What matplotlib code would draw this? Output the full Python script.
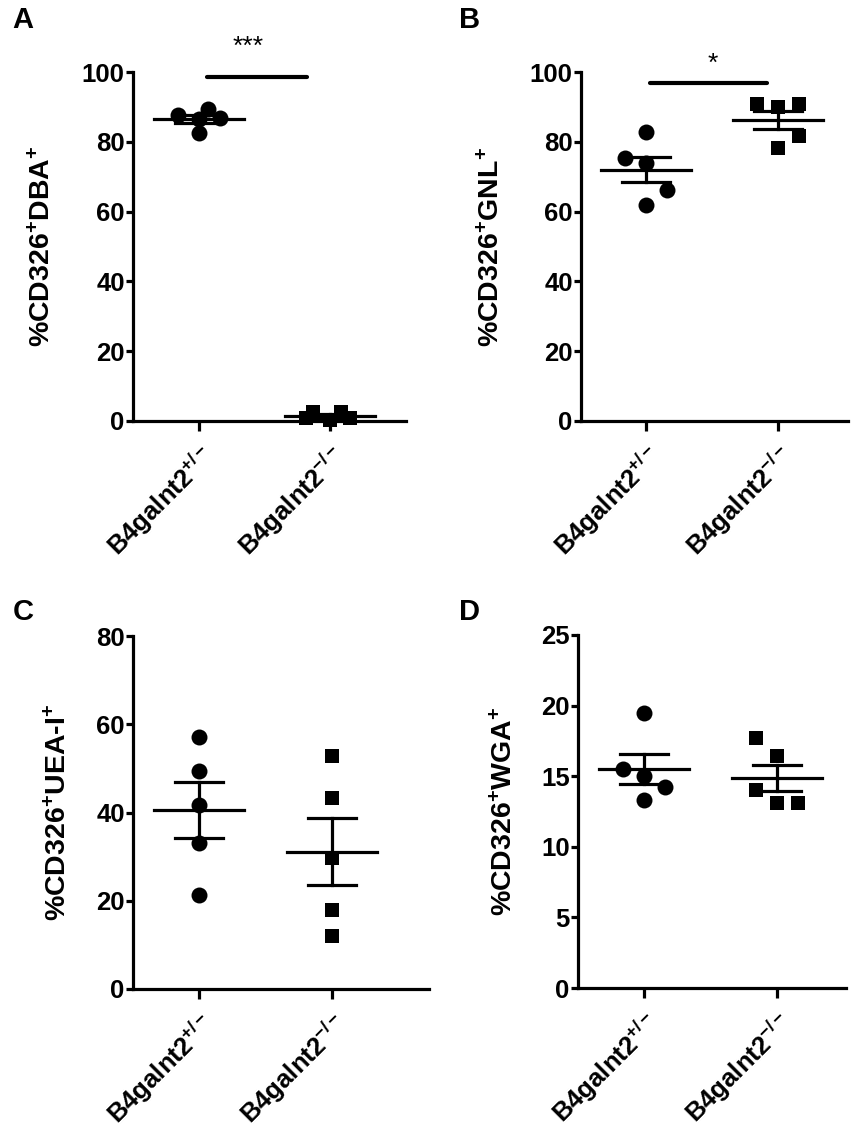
import numpy as np
import matplotlib
matplotlib.use("Agg")
import matplotlib.pyplot as plt

plt.rcParams['font.family'] = ['Liberation Sans', 'DejaVu Sans']
plt.rcParams['font.weight'] = 'bold'
plt.rcParams['mathtext.fontset'] = 'custom'
plt.rcParams['mathtext.rm'] = 'Liberation Sans:bold'
plt.rcParams['mathtext.bf'] = 'Liberation Sans:bold'
plt.rcParams['mathtext.it'] = 'Liberation Sans:bold'
plt.rcParams['mathtext.default'] = 'rm'

# data (% of CD326+ cells)
groups = [r'B4galnt2$^{+/-}$', r'B4galnt2$^{-/-}$']

dba_het = [87.7, 89.4, 86.8, 82.5, 86.6]
dba_ko = [2.6, 2.6, 0.9, 0.9, 0.3]
gnl_het = [75.3, 82.9, 73.8, 66.1, 62.0]
gnl_ko = [90.8, 90.0, 90.8, 81.6, 78.3]
uea_het = [57.2, 49.5, 41.8, 33.2, 21.2]
uea_ko = [52.9, 43.2, 29.7, 17.9, 12.0]
wga_het = [19.5, 15.5, 15.0, 14.2, 13.3]
wga_ko = [17.7, 16.4, 14.0, 13.1, 13.1]

# horizontal scatter of the dots (category units)
jit_dba_het = [-0.16, 0.07, 0.16, 0.0, 0.0]
jit_dba_ko = [-0.13, 0.08, -0.18, 0.15, 0.0]
jit_gnl_het = [-0.16, 0.0, 0.0, 0.16, 0.0]
jit_gnl_ko = [-0.16, 0.0, 0.16, 0.16, 0.0]
jit_uea_het = [0, 0, 0, 0, 0]
jit_uea_ko = [0, 0, 0, 0, 0]
jit_wga_het = [0.0, -0.16, 0.0, 0.16, 0.0]
jit_wga_ko = [-0.16, 0.0, -0.16, 0.0, 0.16]

W, H = 854, 1129
fig = plt.figure(figsize=(W / 100, H / 100), dpi=100)
LW = 2.3
TICK_FS = 18.5


def make_axes(left, right, top, bottom):
    return fig.add_axes([left / W, 1 - bottom / H, (right - left) / W, (bottom - top) / H])


def panel(ax, het, ko, jh, jk, ymax, ystep, xlim, ylabel, lab_off):
    for i, (vals, jit, mk, ms) in enumerate([(het, jh, 'o', 11.5), (ko, jk, 's', 10.5)]):
        vals = np.array(vals)
        m = vals.mean()
        sem = vals.std(ddof=1) / np.sqrt(len(vals))
        ax.plot(i + np.array(jit), vals, mk, color='black', ms=ms, mew=0, clip_on=False, zorder=3)
        ax.plot([i - 0.34, i + 0.34], [m, m], color='black', lw=LW, clip_on=False, zorder=4)
        ax.plot([i, i], [m - sem, m + sem], color='black', lw=LW, clip_on=False, zorder=4)
        for y in (m - sem, m + sem):
            ax.plot([i - 0.18, i + 0.18], [y, y], color='black', lw=LW, clip_on=False, zorder=4)
    ax.set_xlim(*xlim)
    ax.set_ylim(0, ymax)
    ax.set_yticks(np.arange(0, ymax + 0.1, ystep))
    ax.set_xticks([0, 1])
    ax.set_xticklabels(groups, rotation=45, ha='right', rotation_mode='anchor', fontsize=TICK_FS)
    for s in ('top', 'right'):
        ax.spines[s].set_visible(False)
    for s in ('left', 'bottom'):
        ax.spines[s].set_linewidth(LW)
    ax.tick_params(axis='y', direction='out', length=5, width=LW, labelsize=TICK_FS, pad=1)
    ax.tick_params(axis='x', direction='out', length=7.5, width=LW, pad=7)
    ax.set_ylabel(ylabel, fontsize=20.5, fontweight='bold')
    ax.yaxis.label.set_verticalalignment('center')
    ax.yaxis.set_label_coords(lab_off, 0.5)


axA = make_axes(133, 406, 72, 421)
panel(axA, dba_het, dba_ko, jit_dba_het, jit_dba_ko, 100, 20, (-0.504, 1.580),
      r'%CD326$^{+}$DBA$^{+}$', -0.33)
axA.plot([0.061, 0.824], [98.7, 98.7], color='black', lw=3, solid_capstyle='round', clip_on=False)
axA.annotate('***', xy=(0.374, 98.7), xytext=(0, 16), textcoords='offset points',
             ha='center', va='baseline', fontsize=19, fontweight='normal', annotation_clip=False)

axB = make_axes(581, 848, 72, 421)
panel(axB, gnl_het, gnl_ko, jit_gnl_het, jit_gnl_ko, 100, 20, (-0.492, 1.530),
      r'%CD326$^{+}$GNL$^{+}$', -0.335)
axB.plot([0.03, 0.917], [96.8, 96.8], color='black', lw=3, solid_capstyle='round', clip_on=False)
axB.annotate('*', xy=(0.505, 96.8), xytext=(0, 9), textcoords='offset points',
             ha='center', va='baseline', fontsize=19, fontweight='normal', annotation_clip=False)

axC = make_axes(133, 429, 636, 989)
panel(axC, uea_het, uea_ko, jit_uea_het, jit_uea_ko, 80, 20, (-0.496, 1.729),
      r'%CD326$^{+}$UEA-I$^{+}$', -0.25)

axD = make_axes(578, 846, 635, 988)
panel(axD, wga_het, wga_ko, jit_wga_het, jit_wga_ko, 25, 5, (-0.496, 1.519),
      r'%CD326$^{+}$WGA$^{+}$', -0.275)

for letter, x, y in [('A', 12, 20), ('B', 459, 20), ('C', 13, 612), ('D', 459, 612)]:
    fig.text(x / W, 1 - y / H, letter, fontsize=21, fontweight='bold', ha='left', va='center')

fig.savefig('out.png', dpi=100)
